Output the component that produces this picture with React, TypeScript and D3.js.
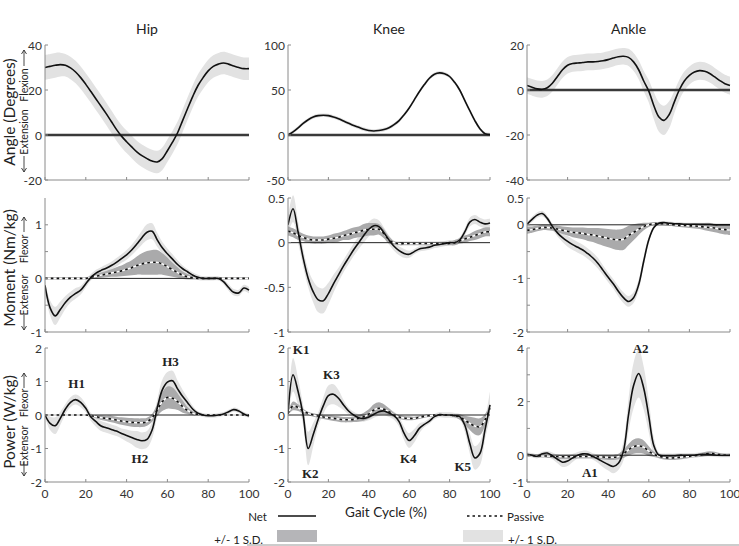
import React from "react";
import * as d3 from "d3";

// ---------- data (gait cycle %) ----------
const GAIT = [0, 2.5, 5, 7.5, 10, 12.5, 15, 17.5, 20, 22.5, 25, 27.5, 30, 32.5, 35, 37.5, 40, 42.5, 45, 47.5, 50, 52.5, 55, 57.5, 60, 62.5, 65, 67.5, 70, 72.5, 75, 77.5, 80, 82.5, 85, 87.5, 90, 92.5, 95, 97.5, 100];

const HIP_ANGLE = [30, 30.5, 31, 31.3, 31, 29.8, 28, 25.5, 22.5, 19.3, 16, 12.8, 9.5, 6, 2.5, -0.5, -3, -5.3, -7.5, -9.2, -10.5, -11.6, -12, -10.5, -7, -3.2, 1, 6.5, 12, 17.3, 22, 25.5, 28.5, 30.5, 31.5, 32, 31.5, 30.7, 30, 29.5, 29.5];
const HIP_ANGLE_SD = [5.5, 5.5, 5.5, 5.3, 5, 5, 5, 5, 5, 5, 5, 5, 5, 5, 5, 5, 5, 5, 5, 5, 5, 5, 5, 5, 5, 5, 5, 5, 5, 5, 5, 5, 5, 5, 5, 5, 5, 5, 5, 5, 5];
const KNEE_ANGLE = [0, 3.5, 8, 13, 17, 20, 21.5, 22, 21.5, 20, 18, 15.5, 13, 10.5, 8.5, 6.5, 5, 4.5, 5, 6, 8, 11.5, 16, 22.5, 30, 39, 48, 56, 63, 67.5, 69, 68, 65, 58.5, 50, 38.5, 27, 16, 7, 1.5, 0.5];
const KNEE_ANGLE_SD = [2, 2, 2, 2, 2, 2, 2, 2, 2, 2, 2, 2, 2, 2, 2, 2, 2, 2, 2, 2, 2, 2, 2, 2, 2, 2, 2, 2, 2, 2, 2, 2, 2, 2, 2, 2, 2, 2, 2, 2, 2];
const ANKLE_ANGLE = [2, 1.2, 0.5, 0.3, 1, 3, 6, 9, 11, 11.8, 12, 12.2, 12.5, 12.5, 12.7, 13, 13.5, 14.2, 14.8, 15, 14.5, 12.5, 9, 4, -0.5, -7, -12, -13.5, -11, -5.5, 0, 4, 6.5, 8, 8.6, 8.3, 7.3, 5.8, 4.2, 2.8, 2];
const ANKLE_ANGLE_SD = [3.7, 3.7, 3.7, 3.7, 3.7, 3.7, 3.7, 3.7, 3.7, 3.7, 3.7, 3.7, 3.7, 3.7, 3.7, 3.7, 3.7, 3.7, 3.7, 3.7, 3.8, 4, 4.2, 4.5, 5, 6, 6.5, 6.5, 6, 5, 4.5, 4.2, 4, 4, 4, 4, 4, 4, 4, 4, 4];

const HIP_MOMENT = [-0.13, -0.55, -0.7, -0.58, -0.45, -0.35, -0.28, -0.22, -0.1, 0.02, 0.1, 0.15, 0.19, 0.24, 0.3, 0.37, 0.44, 0.53, 0.64, 0.76, 0.86, 0.88, 0.72, 0.57, 0.46, 0.36, 0.26, 0.18, 0.12, 0.06, 0.02, 0, 0, 0, 0, -0.06, -0.17, -0.26, -0.27, -0.18, -0.22];
const HIP_MOMENT_SD = [0.1, 0.14, 0.17, 0.15, 0.12, 0.1, 0.1, 0.08, 0.07, 0.06, 0.06, 0.06, 0.07, 0.07, 0.08, 0.08, 0.09, 0.1, 0.11, 0.13, 0.15, 0.15, 0.13, 0.11, 0.1, 0.09, 0.08, 0.06, 0.05, 0.05, 0.05, 0.04, 0.04, 0.04, 0.04, 0.05, 0.06, 0.06, 0.06, 0.06, 0.06];
const HIP_MOMENT_PASSIVE = [0, 0, 0, 0, 0, 0, 0, 0, 0, 0.02, 0.04, 0.06, 0.08, 0.1, 0.12, 0.14, 0.17, 0.2, 0.24, 0.27, 0.29, 0.3, 0.3, 0.27, 0.22, 0.16, 0.11, 0.06, 0.03, 0.01, 0, 0, 0, 0, 0, 0, 0, 0, 0, 0, 0];
const HIP_MOMENT_PASSIVE_SD = [0.02, 0.02, 0.02, 0.02, 0.02, 0.02, 0.02, 0.02, 0.02, 0.03, 0.04, 0.05, 0.06, 0.07, 0.09, 0.1, 0.12, 0.14, 0.17, 0.2, 0.22, 0.23, 0.23, 0.2, 0.17, 0.13, 0.1, 0.07, 0.05, 0.03, 0.02, 0.02, 0.02, 0.02, 0.02, 0.02, 0.02, 0.02, 0.02, 0.02, 0.02];

const KNEE_MOMENT = [0.2, 0.38, 0.12, -0.17, -0.4, -0.55, -0.64, -0.65, -0.57, -0.46, -0.36, -0.26, -0.17, -0.08, 0, 0.08, 0.15, 0.19, 0.18, 0.11, 0.03, -0.04, -0.09, -0.12, -0.13, -0.1, -0.07, -0.06, -0.05, -0.03, -0.02, -0.01, 0, 0, 0.03, 0.12, 0.23, 0.26, 0.23, 0.21, 0.22];
const KNEE_MOMENT_SD = [0.1, 0.15, 0.12, 0.1, 0.1, 0.12, 0.14, 0.14, 0.12, 0.1, 0.08, 0.07, 0.07, 0.07, 0.07, 0.08, 0.08, 0.08, 0.07, 0.06, 0.05, 0.05, 0.05, 0.05, 0.04, 0.03, 0.03, 0.03, 0.03, 0.03, 0.03, 0.03, 0.03, 0.03, 0.03, 0.04, 0.05, 0.05, 0.05, 0.05, 0.05];
const KNEE_MOMENT_PASSIVE = [0.13, 0.11, 0.08, 0.06, 0.04, 0.03, 0.03, 0.03, 0.04, 0.05, 0.06, 0.08, 0.09, 0.11, 0.12, 0.14, 0.15, 0.15, 0.15, 0.1, 0.03, 0, -0.01, -0.01, -0.01, -0.01, -0.01, -0.01, -0.01, -0.01, -0.01, -0.01, -0.01, 0, 0.02, 0.04, 0.06, 0.08, 0.1, 0.12, 0.12];
const KNEE_MOMENT_PASSIVE_SD = [0.05, 0.05, 0.05, 0.04, 0.04, 0.04, 0.04, 0.04, 0.04, 0.05, 0.05, 0.05, 0.06, 0.06, 0.06, 0.07, 0.07, 0.07, 0.06, 0.05, 0.04, 0.02, 0.02, 0.02, 0.02, 0.02, 0.02, 0.02, 0.02, 0.02, 0.02, 0.02, 0.02, 0.03, 0.03, 0.04, 0.04, 0.05, 0.05, 0.05, 0.05];

const ANKLE_MOMENT = [0.01, 0.1, 0.18, 0.21, 0.12, -0.03, -0.15, -0.24, -0.31, -0.37, -0.42, -0.47, -0.54, -0.62, -0.72, -0.85, -0.98, -1.1, -1.24, -1.36, -1.43, -1.36, -1.12, -0.68, -0.28, -0.05, 0.03, 0.04, 0.03, 0.02, 0.02, 0.01, 0.01, 0.01, 0.01, 0.01, 0.01, 0, 0, 0, 0];
const ANKLE_MOMENT_SD = [0.03, 0.05, 0.05, 0.05, 0.05, 0.06, 0.07, 0.08, 0.1, 0.1, 0.1, 0.1, 0.1, 0.1, 0.1, 0.09, 0.09, 0.09, 0.1, 0.1, 0.1, 0.1, 0.1, 0.09, 0.06, 0.03, 0.03, 0.03, 0.03, 0.03, 0.03, 0.03, 0.03, 0.03, 0.03, 0.03, 0.03, 0.03, 0.03, 0.03, 0.03];
const ANKLE_MOMENT_PASSIVE = [-0.1, -0.09, -0.07, -0.05, -0.05, -0.06, -0.08, -0.1, -0.12, -0.14, -0.15, -0.16, -0.18, -0.19, -0.21, -0.23, -0.25, -0.27, -0.28, -0.27, -0.2, -0.14, -0.08, -0.03, 0, 0.02, 0.02, 0.02, 0.01, 0, -0.01, -0.01, -0.02, -0.02, -0.03, -0.04, -0.05, -0.06, -0.08, -0.09, -0.1];
const ANKLE_MOMENT_PASSIVE_SD = [0.07, 0.06, 0.05, 0.05, 0.05, 0.05, 0.06, 0.07, 0.08, 0.09, 0.1, 0.11, 0.12, 0.13, 0.15, 0.16, 0.17, 0.18, 0.19, 0.2, 0.18, 0.15, 0.11, 0.07, 0.04, 0.03, 0.03, 0.03, 0.03, 0.03, 0.03, 0.04, 0.04, 0.05, 0.05, 0.06, 0.07, 0.08, 0.08, 0.09, 0.09];

const HIP_POWER = [0, -0.25, -0.32, -0.1, 0.18, 0.38, 0.46, 0.38, 0.2, -0.06, -0.2, -0.33, -0.38, -0.43, -0.48, -0.55, -0.61, -0.67, -0.73, -0.77, -0.73, -0.45, 0.2, 0.75, 0.98, 1.02, 0.78, 0.55, 0.36, 0.17, 0.05, 0, -0.02, -0.02, 0, 0.03, 0.1, 0.16, 0.12, 0.03, -0.03];
const HIP_POWER_SD = [0.05, 0.2, 0.25, 0.2, 0.15, 0.15, 0.15, 0.15, 0.12, 0.12, 0.15, 0.15, 0.15, 0.15, 0.15, 0.15, 0.18, 0.2, 0.25, 0.25, 0.25, 0.25, 0.25, 0.3, 0.3, 0.3, 0.25, 0.2, 0.15, 0.1, 0.06, 0.06, 0.06, 0.06, 0.06, 0.06, 0.06, 0.06, 0.06, 0.06, 0.06];
const HIP_POWER_PASSIVE = [0, 0, 0, 0, 0, 0, 0, 0, 0, -0.02, -0.05, -0.08, -0.1, -0.12, -0.15, -0.18, -0.2, -0.22, -0.23, -0.23, -0.2, -0.08, 0.15, 0.4, 0.52, 0.5, 0.4, 0.25, 0.13, 0.05, 0.02, 0, 0, 0, 0, 0, 0, 0, 0, 0, 0];
const HIP_POWER_PASSIVE_SD = [0.02, 0.02, 0.02, 0.02, 0.02, 0.02, 0.02, 0.02, 0.02, 0.03, 0.05, 0.07, 0.08, 0.1, 0.1, 0.11, 0.12, 0.13, 0.13, 0.13, 0.12, 0.12, 0.18, 0.28, 0.33, 0.32, 0.25, 0.18, 0.1, 0.06, 0.03, 0.03, 0.03, 0.03, 0.03, 0.03, 0.03, 0.03, 0.03, 0.03, 0.03];

const KNEE_POWER = [0.03, 1.2, 0.7, 0, -1, -0.58, -0.12, 0.28, 0.58, 0.62, 0.5, 0.3, 0.12, 0, -0.08, -0.1, -0.06, 0.02, 0.1, 0.12, 0.06, -0.02, -0.2, -0.55, -0.76, -0.62, -0.4, -0.28, -0.18, -0.05, 0.01, 0, 0, -0.02, -0.05, -0.3, -0.85, -1.28, -1.15, -0.45, 0.3];
const KNEE_POWER_SD = [0.15, 0.5, 0.4, 0.3, 0.5, 0.35, 0.2, 0.25, 0.3, 0.3, 0.25, 0.15, 0.1, 0.1, 0.1, 0.1, 0.1, 0.1, 0.12, 0.12, 0.12, 0.12, 0.15, 0.2, 0.22, 0.2, 0.15, 0.08, 0.08, 0.08, 0.08, 0.08, 0.08, 0.08, 0.08, 0.2, 0.3, 0.35, 0.35, 0.3, 0.4];
const KNEE_POWER_PASSIVE = [0.05, 0.27, 0.22, 0.12, 0.05, 0, -0.03, -0.06, -0.08, -0.1, -0.12, -0.14, -0.14, -0.13, -0.1, -0.05, 0.03, 0.15, 0.2, 0.17, 0.1, 0, -0.06, -0.09, -0.1, -0.1, -0.07, -0.04, -0.02, 0, 0, 0, 0, -0.02, -0.06, -0.15, -0.25, -0.33, -0.35, -0.15, 0.2];
const KNEE_POWER_PASSIVE_SD = [0.05, 0.13, 0.1, 0.07, 0.05, 0.05, 0.05, 0.06, 0.07, 0.08, 0.08, 0.08, 0.08, 0.08, 0.1, 0.12, 0.14, 0.17, 0.18, 0.15, 0.1, 0.07, 0.06, 0.06, 0.06, 0.05, 0.05, 0.04, 0.04, 0.03, 0.03, 0.03, 0.03, 0.05, 0.08, 0.13, 0.2, 0.25, 0.25, 0.18, 0.1];

const ANKLE_POWER = [0.03, 0, -0.04, 0.05, 0.08, -0.02, -0.15, -0.26, -0.22, -0.1, 0, 0.05, 0.04, -0.05, -0.14, -0.25, -0.35, -0.42, -0.3, 0.15, 1.5, 2.6, 3.05, 2.5, 1.45, 0.35, 0, -0.02, -0.02, -0.02, 0, 0, 0, 0, 0.02, 0.03, 0.03, 0.01, 0, 0, 0];
const ANKLE_POWER_SD = [0.08, 0.08, 0.08, 0.08, 0.08, 0.12, 0.15, 0.18, 0.18, 0.15, 0.12, 0.12, 0.12, 0.12, 0.15, 0.2, 0.22, 0.25, 0.25, 0.35, 0.6, 0.85, 0.9, 0.8, 0.6, 0.3, 0.1, 0.08, 0.08, 0.08, 0.08, 0.08, 0.08, 0.08, 0.08, 0.08, 0.08, 0.08, 0.08, 0.08, 0.08];
const ANKLE_POWER_PASSIVE = [0, -0.02, -0.03, -0.03, -0.03, -0.04, -0.05, -0.06, -0.06, -0.06, -0.05, -0.05, -0.05, -0.05, -0.06, -0.07, -0.08, -0.08, -0.05, 0.05, 0.2, 0.32, 0.35, 0.3, 0.15, 0.03, -0.03, -0.08, -0.1, -0.1, -0.08, -0.06, -0.04, -0.02, 0, 0.04, 0.06, 0.05, 0.02, 0, 0];
const ANKLE_POWER_PASSIVE_SD = [0.05, 0.05, 0.06, 0.06, 0.07, 0.07, 0.08, 0.08, 0.08, 0.08, 0.07, 0.07, 0.07, 0.07, 0.08, 0.09, 0.1, 0.1, 0.1, 0.15, 0.22, 0.27, 0.28, 0.25, 0.18, 0.1, 0.08, 0.08, 0.08, 0.08, 0.08, 0.07, 0.06, 0.06, 0.07, 0.08, 0.09, 0.08, 0.06, 0.05, 0.05];

const JOINTS = ["Hip", "Knee", "Ankle"];
const X_TICKS = [0, 20, 40, 60, 80, 100];

const ANGLE_DOMAINS = [[-20, 40], [-50, 100], [-40, 20]];
const MOMENT_DOMAINS = [[-1, 1.5], [-1, 0.5], [-2, 0.5]];
const POWER_DOMAINS = [[-2, 2], [-2, 2], [-1, 4]];

const ANGLE_TICK_LABELS = [[-20, 0, 20, 40], [-50, 0, 50, 100], [-40, -20, 0, 20]];
const MOMENT_TICK_LABELS = [[-1, 0, 1], [-1, -0.5, 0, 0.5], [-2, -1, 0, 0.5]];
const POWER_TICK_LABELS = [[-2, -1, 0, 1, 2], [-2, -1, 0, 1, 2], [-1, 0, 2, 4]];
const MOMENT_MINOR_TICKS = [[-0.5, 0.5], [], [-1.5, -0.5]];
const POWER_MINOR_TICKS = [[], [], [1, 3]];

const PEAK_LABELS = [
  { col: 0, text: "H1", x: 15.5, y: 0.95 },
  { col: 0, text: "H3", x: 61.5, y: 1.6 },
  { col: 0, text: "H2", x: 46.5, y: -1.3 },
  { col: 1, text: "K1", x: 6.5, y: 1.95 },
  { col: 1, text: "K3", x: 21.5, y: 1.2 },
  { col: 1, text: "K2", x: 11, y: -1.75 },
  { col: 1, text: "K4", x: 59.5, y: -1.3 },
  { col: 1, text: "K5", x: 86.5, y: -1.55 },
  { col: 2, text: "A2", x: 56, y: 4.0 },
  { col: 2, text: "A1", x: 31, y: -0.65 },
];

// ---------- layout ----------
const W = 739;
const H = 546;
const COLS = [
  { x0: 45, x1: 249 },
  { x0: 288, x1: 490 },
  { x0: 527, x1: 730 },
];
const ROWS = [
  { y0: 45, y1: 180 },
  { y0: 198, y1: 332 },
  { y0: 348, y1: 482 },
];
const FONT = "Lato, 'Open Sans', 'DejaVu Sans', sans-serif";
const LIGHT = "#e2e2e2";
const DARK = "#aaaaab";
const AXIS = "#8a8a8a";

type PanelDef = {
  row: number;
  col: number;
  domain: number[];
  labels: number[];
  minors: number[];
  net: number[];
  netSd: number[];
  passive?: number[];
  passiveSd?: number[];
};

const PANELS: PanelDef[] = [
  { row: 0, col: 0, domain: ANGLE_DOMAINS[0], labels: ANGLE_TICK_LABELS[0], minors: [], net: HIP_ANGLE, netSd: HIP_ANGLE_SD },
  { row: 0, col: 1, domain: ANGLE_DOMAINS[1], labels: ANGLE_TICK_LABELS[1], minors: [], net: KNEE_ANGLE, netSd: KNEE_ANGLE_SD },
  { row: 0, col: 2, domain: ANGLE_DOMAINS[2], labels: ANGLE_TICK_LABELS[2], minors: [], net: ANKLE_ANGLE, netSd: ANKLE_ANGLE_SD },
  { row: 1, col: 0, domain: MOMENT_DOMAINS[0], labels: MOMENT_TICK_LABELS[0], minors: MOMENT_MINOR_TICKS[0], net: HIP_MOMENT, netSd: HIP_MOMENT_SD, passive: HIP_MOMENT_PASSIVE, passiveSd: HIP_MOMENT_PASSIVE_SD },
  { row: 1, col: 1, domain: MOMENT_DOMAINS[1], labels: MOMENT_TICK_LABELS[1], minors: MOMENT_MINOR_TICKS[1], net: KNEE_MOMENT, netSd: KNEE_MOMENT_SD, passive: KNEE_MOMENT_PASSIVE, passiveSd: KNEE_MOMENT_PASSIVE_SD },
  { row: 1, col: 2, domain: MOMENT_DOMAINS[2], labels: MOMENT_TICK_LABELS[2], minors: MOMENT_MINOR_TICKS[2], net: ANKLE_MOMENT, netSd: ANKLE_MOMENT_SD, passive: ANKLE_MOMENT_PASSIVE, passiveSd: ANKLE_MOMENT_PASSIVE_SD },
  { row: 2, col: 0, domain: POWER_DOMAINS[0], labels: POWER_TICK_LABELS[0], minors: POWER_MINOR_TICKS[0], net: HIP_POWER, netSd: HIP_POWER_SD, passive: HIP_POWER_PASSIVE, passiveSd: HIP_POWER_PASSIVE_SD },
  { row: 2, col: 1, domain: POWER_DOMAINS[1], labels: POWER_TICK_LABELS[1], minors: POWER_MINOR_TICKS[1], net: KNEE_POWER, netSd: KNEE_POWER_SD, passive: KNEE_POWER_PASSIVE, passiveSd: KNEE_POWER_PASSIVE_SD },
  { row: 2, col: 2, domain: POWER_DOMAINS[2], labels: POWER_TICK_LABELS[2], minors: POWER_MINOR_TICKS[2], net: ANKLE_POWER, netSd: ANKLE_POWER_SD, passive: ANKLE_POWER_PASSIVE, passiveSd: ANKLE_POWER_PASSIVE_SD },
];

function fmt(v: number) {
  return String(v);
}

function Panel({ p }: { p: PanelDef }) {
  const c = COLS[p.col];
  const r = ROWS[p.row];
  const x = d3.scaleLinear().domain([0, 100]).range([c.x0, c.x1]);
  const y = d3.scaleLinear().domain(p.domain).range([r.y1, r.y0]);
  const curve = d3.curveCatmullRom.alpha(0.5);
  const band = (mean: number[], sd: number[]) =>
    d3
      .area<number>()
      .x((_, i) => x(GAIT[i]))
      .y0((d, i) => y(d - sd[i]))
      .y1((d, i) => y(d + sd[i]))
      .curve(curve)(mean) || "";
  const line = (vals: number[]) =>
    d3
      .line<number>()
      .x((_, i) => x(GAIT[i]))
      .y((d) => y(d))
      .curve(curve)(vals) || "";
  const isAngle = p.row === 0;
  const clipId = `clip-${p.row}-${p.col}`;
  return (
    <g>
      <defs>
        <clipPath id={clipId}>
          <rect x={c.x0} y={r.y0 - 4} width={c.x1 - c.x0 + 2} height={r.y1 - r.y0 + 4} />
        </clipPath>
      </defs>
      <g clipPath={`url(#${clipId})`}>
        <path d={band(p.net, p.netSd)} fill={LIGHT} stroke="none" />
        {p.passive && p.passiveSd && <path d={band(p.passive, p.passiveSd)} fill={DARK} stroke="none" />}
        <line
          x1={c.x0}
          x2={c.x1}
          y1={y(0)}
          y2={y(0)}
          stroke={isAngle ? "#3a3a3a" : "#222"}
          strokeWidth={isAngle ? 2.4 : 1}
        />
        {p.passive && (
          <>
            <path d={line(p.passive)} fill="none" stroke="#fff" strokeWidth={1.4} />
            <path d={line(p.passive)} fill="none" stroke="#111" strokeWidth={1.6} strokeDasharray="2.6,3.2" />
          </>
        )}
        <path d={line(p.net)} fill="none" stroke="#111" strokeWidth={1.6} strokeLinejoin="round" />
      </g>
      {/* axes */}
      <line x1={c.x0} x2={c.x0} y1={r.y0} y2={r.y1} stroke={AXIS} strokeWidth={1} />
      <line x1={c.x0} x2={c.x1} y1={r.y1} y2={r.y1} stroke={AXIS} strokeWidth={1} />
      {X_TICKS.map((t) => (
        <line key={`xt${t}`} x1={x(t)} x2={x(t)} y1={r.y1} y2={r.y1 - 3} stroke={AXIS} strokeWidth={1} />
      ))}
      {[...p.labels, ...p.minors].map((t) => (
        <line key={`yt${t}`} x1={c.x0} x2={c.x0 + 3} y1={y(t)} y2={y(t)} stroke={AXIS} strokeWidth={1} />
      ))}
      {p.labels.map((t) => (
        <text
          key={`yl${t}`}
          x={c.x0 - 3}
          y={y(t)}
          textAnchor="end"
          dominantBaseline="central"
          fontFamily={FONT}
          fontSize={12}
          fill="#333"
        >
          {fmt(t)}
        </text>
      ))}
      {p.row === 2 &&
        X_TICKS.map((t) => (
          <text
            key={`xl${t}`}
            x={x(t)}
            y={r.y1 + 11}
            textAnchor="middle"
            dominantBaseline="central"
            fontFamily={FONT}
            fontSize={12}
            fill="#333"
          >
            {t}
          </text>
        ))}
    </g>
  );
}

function VArrow({ x, yFrom, yTo }: { x: number; yFrom: number; yTo: number }) {
  const dir = yTo < yFrom ? -1 : 1;
  return (
    <g stroke="#333" strokeWidth={0.9} fill="none">
      <line x1={x} x2={x} y1={yFrom} y2={yTo} />
      <polyline points={`${x - 2.5},${yTo - dir * 4} ${x},${yTo} ${x + 2.5},${yTo - dir * 4}`} />
    </g>
  );
}

function RotText({ x, y, size, children }: { x: number; y: number; size: number; children: React.ReactNode }) {
  return (
    <text
      transform={`translate(${x},${y}) rotate(-90)`}
      textAnchor="middle"
      dominantBaseline="central"
      fontFamily={FONT}
      fontSize={size}
      fill="#222"
    >
      {children}
    </text>
  );
}

const Y_LABELS = [
  { main: "Angle (Degrees)", mainY: 112, pos: "Flexion", posY: 85, neg: "Extension", negY: 132, upFrom: 66, upTo: 50, downFrom: 156, downTo: 172 },
  { main: "Moment (Nm/kg)", mainY: 268, pos: "Flexor", posY: 249, neg: "Extensor", negY: 295, upFrom: 232, upTo: 217, downFrom: 315, downTo: 330 },
  { main: "Power (W/kg)", mainY: 422, pos: "Flexor", posY: 403, neg: "Extensor", negY: 446, upFrom: 388, upTo: 373, downFrom: 461, downTo: 476 },
];

export default function App() {
  const powerRow = ROWS[2];
  return (
    <svg
      width={W}
      height={H}
      viewBox={`0 0 ${W} ${H}`}
      style={{ position: "absolute", left: 0, top: 0, background: "#fff" }}
    >
      <rect x={0} y={0} width={W} height={H} fill="#fff" />
      {JOINTS.map((j, i) => (
        <text
          key={j}
          x={(COLS[i].x0 + COLS[i].x1) / 2}
          y={28}
          textAnchor="middle"
          dominantBaseline="central"
          fontFamily={FONT}
          fontSize={14}
          fill="#222"
        >
          {j}
        </text>
      ))}
      {Y_LABELS.map((l) => (
        <g key={l.main}>
          <RotText x={9} y={l.mainY} size={15.5}>
            {l.main}
          </RotText>
          <RotText x={24} y={l.posY} size={10.5}>
            {l.pos}
          </RotText>
          <RotText x={24} y={l.negY} size={10.5}>
            {l.neg}
          </RotText>
          <VArrow x={24} yFrom={l.upFrom} yTo={l.upTo} />
          <VArrow x={24} yFrom={l.downFrom} yTo={l.downTo} />
        </g>
      ))}
      {PANELS.map((p) => (
        <Panel key={`${p.row}-${p.col}`} p={p} />
      ))}
      {PEAK_LABELS.map((l) => {
        const c = COLS[l.col];
        const x = d3.scaleLinear().domain([0, 100]).range([c.x0, c.x1]);
        const y = d3.scaleLinear().domain(POWER_DOMAINS[l.col]).range([powerRow.y1, powerRow.y0]);
        return (
          <text
            key={l.text}
            x={x(l.x)}
            y={y(l.y)}
            textAnchor="middle"
            dominantBaseline="central"
            fontFamily="'Liberation Serif', 'DejaVu Serif', serif"
            fontWeight="bold"
            fontSize={13}
            fill="#222"
          >
            {l.text}
          </text>
        );
      })}
      {/* legend */}
      <g fontFamily={FONT} fill="#222">
        <text x={386} y={512} textAnchor="middle" dominantBaseline="central" fontSize={13.5}>
          Gait Cycle (%)
        </text>
        <text x={267} y={516} textAnchor="end" dominantBaseline="central" fontSize={11.5}>
          Net
        </text>
        <line x1={278} x2={316} y1={516} y2={516} stroke="#111" strokeWidth={1.6} />
        <line x1={467} x2={503} y1={516} y2={516} stroke="#111" strokeWidth={1.3} strokeDasharray="2.5,3" />
        <text x={507} y={516} textAnchor="start" dominantBaseline="central" fontSize={11.5}>
          Passive
        </text>
        <text x={263} y={539} textAnchor="end" dominantBaseline="central" fontSize={11.5}>
          +/- 1 S.D.
        </text>
        <rect x={277} y={530} width={40} height={12} fill="#b5b5b8" />
        <rect x={463} y={530} width={40} height={12} fill={LIGHT} />
        <text x={508} y={539} textAnchor="start" dominantBaseline="central" fontSize={11.5}>
          +/- 1 S.D.
        </text>
        <line x1={247} x2={739} y1={545} y2={545} stroke="#999" strokeWidth={1} />
      </g>
    </svg>
  );
}
